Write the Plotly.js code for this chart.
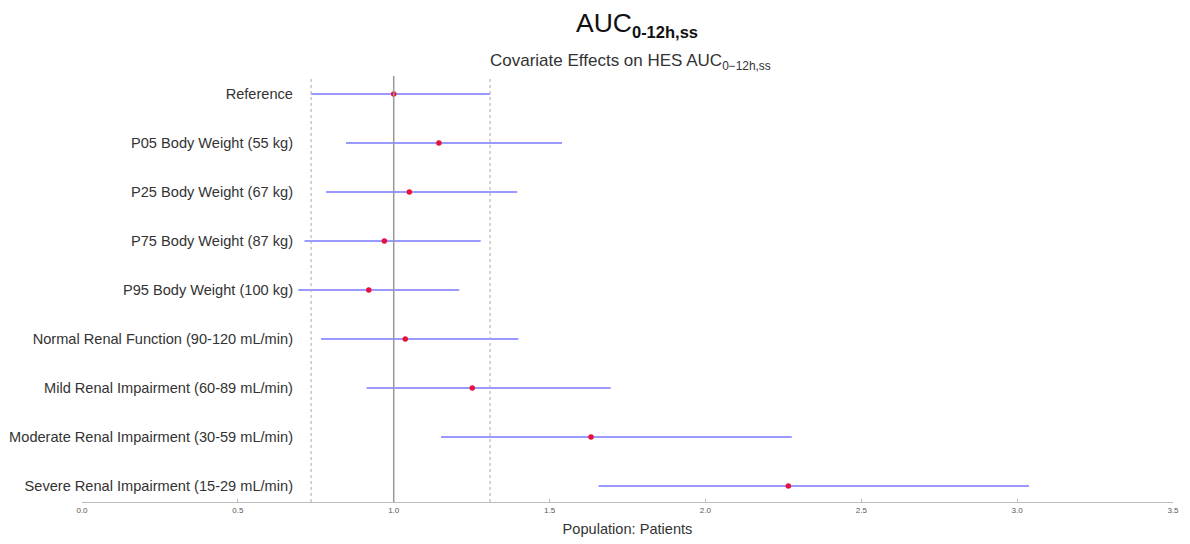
<!DOCTYPE html>
<html>
<head>
<meta charset="utf-8">
<script src="https://cdn.plot.ly/plotly-3.0.1.min.js"></script>
<style>html,body{margin:0;padding:0;background:#fff;}#chart{width:1190px;height:544px;}</style>
</head>
<body>
<div id="chart"></div>
<script>
// Covariate categories (top to bottom)
const categories = [
  "Reference",
  "P05 Body Weight (55 kg)",
  "P25 Body Weight (67 kg)",
  "P75 Body Weight (87 kg)",
  "P95 Body Weight (100 kg)",
  "Normal Renal Function (90-120 mL/min)",
  "Mild Renal Impairment (60-89 mL/min)",
  "Moderate Renal Impairment (30-59 mL/min)",
  "Severe Renal Impairment (15-29 mL/min)"
];
// Geometric mean ratio and interval bounds
const ratio = [1.00, 1.145, 1.05, 0.97, 0.92, 1.037, 1.252, 1.633, 2.266];
const lower = [0.735, 0.847, 0.783, 0.714, 0.694, 0.767, 0.913, 1.152, 1.657];
const upper = [1.309, 1.540, 1.396, 1.279, 1.210, 1.400, 1.696, 2.277, 3.038];
const xTicks = [0.0, 0.5, 1.0, 1.5, 2.0, 2.5, 3.0, 3.5];

const errPlus = ratio.map((v, i) => upper[i] - v);
const errMinus = ratio.map((v, i) => v - lower[i]);

const trace = {
  type: 'scatter',
  mode: 'markers',
  x: ratio,
  y: categories,
  marker: {color: '#e8103c', size: 5.5},
  error_x: {
    type: 'data', symmetric: false,
    array: errPlus, arrayminus: errMinus,
    color: 'rgba(85,85,255,0.8)', thickness: 1.5, width: 0
  },
  hoverinfo: 'x+y',
  showlegend: false
};

const W = 1190, H = 544;
const mL = 82, mR = 17, mT = 76, mB = 42;
const plotH = H - mT - mB;
function py(Y) { return (H - mB - Y) / plotH; }
const axisX = 293;
const yPos = (axisX - mL) / (W - mL - mR);

const layout = {
  width: W, height: H,
  margin: {l: mL, r: mR, t: mT, b: mB},
  paper_bgcolor: '#fff', plot_bgcolor: '#fff',
  font: {family: 'Liberation Sans, Arial, sans-serif', color: '#333'},
  showlegend: false,
  xaxis: {
    range: [0, 3.5], tickvals: xTicks, tickformat: '.1f',
    tickfont: {size: 8, color: '#555'},
    showgrid: false, zeroline: false,
    showline: true, linecolor: '#bbb', linewidth: 1,
    ticks: 'inside', ticklen: 3, tickcolor: '#bbb',
    title: {text: 'Population: Patients', font: {size: 14.6, color: '#333'}, standoff: 10}
  },
  yaxis: {
    type: 'category', categoryorder: 'array', categoryarray: categories,
    range: [8.327, -0.367],
    anchor: 'free', position: yPos,
    showgrid: false, zeroline: false, showline: false, ticks: '',
    tickfont: {size: 14.6, color: '#333'}
  },
  shapes: [
    {type: 'line', xref: 'x', yref: 'paper', x0: 1, x1: 1, y0: 0, y1: 1,
     line: {color: '#999', width: 1.5}},
    {type: 'line', xref: 'x', yref: 'paper', x0: lower[0], x1: lower[0], y0: 0, y1: 1,
     line: {color: '#aaa', width: 1, dash: 'dot'}},
    {type: 'line', xref: 'x', yref: 'paper', x0: upper[0], x1: upper[0], y0: 0, y1: 1,
     line: {color: '#aaa', width: 1, dash: 'dot'}}
  ],
  annotations: [
    {xref: 'paper', yref: 'paper', x: 0.5, y: py(24), xanchor: 'center', yanchor: 'middle',
     xshift: 9, showarrow: false,
     text: 'AUC<sub><b><span style="font-size:16.5px">0-12h,ss</span></b></sub>',
     font: {size: 26.5, color: '#111'}},
    {xref: 'paper', yref: 'paper', x: 0.5, y: py(62), xanchor: 'center', yanchor: 'middle',
     xshift: 3, showarrow: false,
     text: 'Covariate Effects on HES AUC<sub>0\u221212h,ss</sub>',
     font: {size: 17, color: '#333'}}
  ]
};

Plotly.newPlot('chart', [trace], layout, {displayModeBar: false, staticPlot: true});
</script>
</body>
</html>
